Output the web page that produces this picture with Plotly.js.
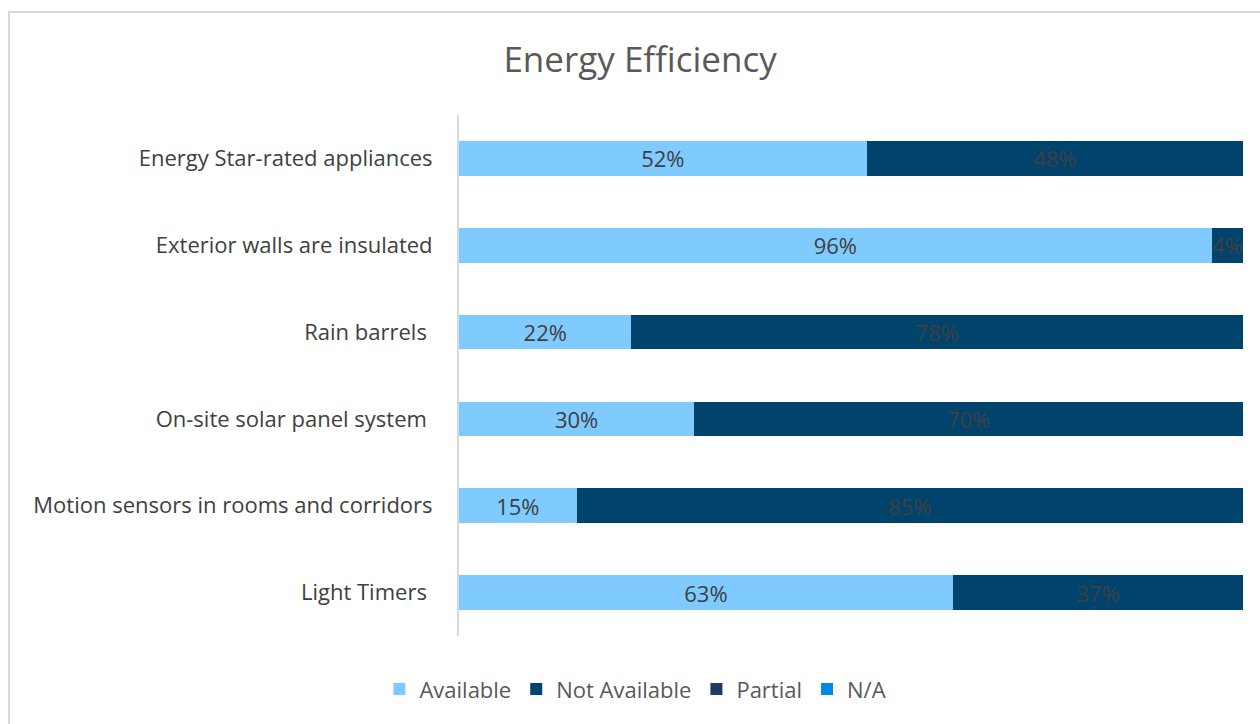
<!DOCTYPE html>
<html><head><meta charset="utf-8">
<script src="https://cdn.plot.ly/plotly-3.0.1.min.js"></script>
<style>
html,body{margin:0;padding:0;background:#fff;}
#frame{position:absolute;left:8px;top:11px;width:1270px;height:730px;border:2px solid #d9d9d9;box-sizing:border-box;}
#chart{position:absolute;left:0;top:0;width:1260px;height:724px;}
</style></head>
<body>
<div id="frame"></div>
<div id="chart"></div>
<script>
const categories = ["Energy Star-rated appliances","Exterior walls are insulated","Rain barrels ","On-site solar panel system ","Motion sensors in rooms and corridors","Light Timers "];
const available = [52, 96, 22, 30, 15, 63];
const notAvailable = [48, 4, 78, 70, 85, 37];
const partial = [0, 0, 0, 0, 0, 0];
const na = [0, 0, 0, 0, 0, 0];

const fontFam = '"Open Sans", "Noto Sans", sans-serif';
function pct(arr){ return arr.map(v => v > 0 ? v + '%' : ''); }
function mk(name, vals, color, withText){
  return {
    type:'bar', orientation:'h', name:name, x:vals, y:categories,
    marker:{color:color},
    text: withText ? pct(vals) : undefined,
    textposition: withText ? 'inside' : 'none',
    insidetextanchor:'middle',
    constraintext:'none',
    textangle:0,
    textfont:{family:fontFam, size:22, color:'#404040'},
    hoverinfo:'x+y+name'
  };
}
const data = [
  mk('Available', available, '#7fcaff', true),
  mk('Not Available', notAvailable, '#00446e', true),
  mk('Partial', partial, '#1f3b63', false),
  mk('N/A', na, '#0088e2', false)
];
const layout = {
  width:1260, height:724,
  paper_bgcolor:'rgba(0,0,0,0)', plot_bgcolor:'rgba(0,0,0,0)',
  barmode:'stack', bargap:0.6,
  margin:{l:459, r:17, t:115, b:88},
  font:{family:fontFam, color:'#595959'},
  title:{text:'Energy Efficiency', font:{family:fontFam, size:35, color:'#595959'}, x:0.508, xanchor:'center', y:0.917, yanchor:'middle', xref:'container', yref:'container'},
  xaxis:{range:[0,100], visible:false, fixedrange:true},
  yaxis:{autorange:'reversed', showline:true, linecolor:'#d9d9d9', linewidth:2, ticks:'', showgrid:false, zeroline:false,
         tickfont:{family:fontFam, size:22, color:'#404040'}, ticklabelstandoff:20},
  legend:{orientation:'h', x:0.225, xanchor:'center', y:-0.102, yanchor:'middle',
          font:{family:fontFam, size:22, color:'#595959'}, itemwidth:30, traceorder:'normal'},
  showlegend:true
};
Plotly.newPlot('chart', data, layout, {displayModeBar:false, staticPlot:true});
</script>
</body></html>
